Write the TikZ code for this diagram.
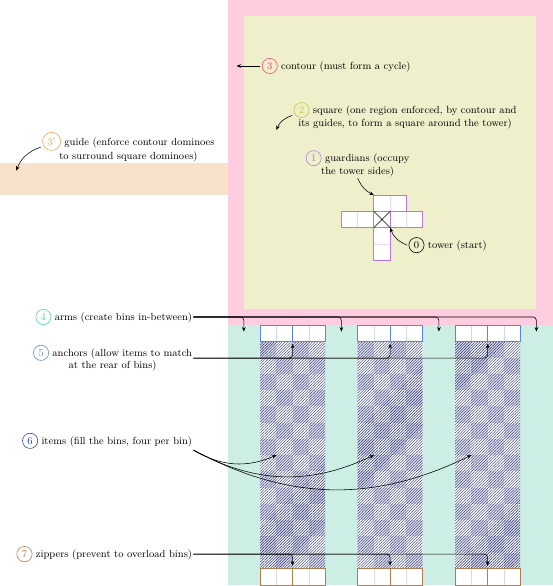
\documentclass[tikz,border=0pt]{standalone}
\usepackage{amsmath}
\usepackage{tikz}
\usetikzlibrary{arrows.meta,patterns.meta}
\definecolor{contourbg}{RGB}{255,204,224}
\definecolor{squarebg}{RGB}{239,239,204}
\definecolor{guidebg}{RGB}{249,226,204}
\definecolor{binbg}{RGB}{204,238,228}
\definecolor{contourcol}{RGB}{240,70,120}
\definecolor{squarecol}{RGB}{196,196,76}
\definecolor{guidecol}{RGB}{240,160,80}
\definecolor{guardcol}{RGB}{180,120,240}
\definecolor{armcol}{RGB}{80,208,168}
\definecolor{anchorcol}{RGB}{90,130,240}
\definecolor{itemcol}{RGB}{40,64,176}
\definecolor{zipcol}{RGB}{176,124,80}
\definecolor{hatchcol}{RGB}{30,40,110}

% circled step number
\newcommand{\stepnum}[2]{\tikz[baseline=(n.base)]\node[circle, draw=#1, text=#1,
  inner sep=2pt, anchor=base, line width=0.5pt] (n) {#2};}

\begin{document}
\begin{tikzpicture}[
  x=0.5cm, y=0.5cm,
  lbl/.style={font=\small, align=center, inner sep=1pt},
  arr/.style={-{Stealth[length=4pt, width=3.2pt]}, line width=0.5pt},
  domino/.style={draw=#1, line width=0.8pt},
  seam/.style={draw=#1!30, line width=0.5pt},
]
\useasboundingbox (0,0) rectangle (34,-36.05);

% regions
\fill[guidebg]   (0,-10) rectangle (14,-12);
\fill[contourbg] (14,0)  rectangle (34,-20);
\fill[squarebg]  (15,-1) rectangle (33,-19);
\fill[binbg]     (14,-20) rectangle (34,-36);

% hatched bin columns
\foreach \bx in {16,22,28} {
  \fill[white] (\bx,-21) rectangle ++(4,-14);
  \foreach \i in {0,2}
    \foreach \j in {21,23,...,33} {
      \fill[hatchcol!15] (\bx+\i,-\j) rectangle ++(1,-1);
      \fill[hatchcol!15] (\bx+\i+1,-\j-1) rectangle ++(1,-1);
    }
  \fill[pattern={Lines[angle=45, distance=1.7pt, line width=0.35pt]}, pattern color=hatchcol]
    (\bx,-21) rectangle ++(4,-14);
}

% bins (top) and zippers (bottom)
\foreach \bx in {16,22,28} {
  \fill[white] (\bx,-20) rectangle ++(4,-1) (\bx,-35) rectangle ++(4,-1);
  \draw[seam=anchorcol] (\bx+1,-20) -- ++(0,-1) (\bx+3,-20) -- ++(0,-1);
  \draw[seam=zipcol] (\bx+1,-35) -- ++(0,-1) (\bx+3,-35) -- ++(0,-1);
  \draw[domino=anchorcol] (\bx,-20) rectangle ++(2,-1) (\bx+2,-20) rectangle ++(2,-1);
  \draw[domino=zipcol] (\bx,-35) rectangle ++(2,-1) (\bx+2,-35) rectangle ++(2,-1);
}

% tower and guardians
\fill[white] (23,-12) rectangle (25,-13) (21,-13) rectangle (26,-14) (23,-14) rectangle (24,-16);
\draw[seam=guardcol] (24,-12) -- (24,-13) (22,-13) -- (22,-14) (25,-13) -- (25,-14) (23,-15) -- (24,-15);
\draw[domino=guardcol] (23,-12) rectangle (25,-13) (21,-13) rectangle (23,-14)
  (24,-13) rectangle (26,-14) (23,-14) rectangle (24,-16);
\draw[line width=0.5pt] (23,-13) -- (24,-14) (23,-14) -- (24,-13);

% labels
\node[lbl] (contour) at (20.68,-4.06) {\stepnum{contourcol}{3} contour (must form a cycle)};
\node[lbl] (square) at (24.92,-7.1) {\stepnum{squarecol}{2} square (one region enforced, by contour and\\its guides, to form a square around the tower)};
\node[lbl] (guide) at (7.9,-9.05) {\stepnum{guidecol}{$3'$} guide (enforce contour dominoes\\to surround square dominoes)};
\node[lbl] (guardians) at (22,-10.06) {\stepnum{guardcol}{1} guardians (occupy\\the tower sides)};
\node[lbl] (tower) at (27.54,-15.08) {\stepnum{black}{0} tower (start)};
\node[lbl, anchor=east] (arms) at (11.9,-19.5) {\stepnum{armcol}{4} arms (create bins in-between)};
\node[lbl, anchor=east] (anchors) at (11.9,-22.03) {\stepnum{anchorcol}{5} anchors (allow items to match\\at the rear of bins)};
\node[lbl, anchor=east] (items) at (11.9,-27.12) {\stepnum{itemcol}{6} items (fill the bins, four per bin)};
\node[lbl, anchor=east] (zippers) at (11.9,-34.09) {\stepnum{zipcol}{7} zippers (prevent to overload bins)};

\coordinate (contourpt) at (14.55,-4.06);
\coordinate (squarept)  at (17,-8);
\coordinate (guidept)   at (1,-10.5);
\coordinate (guardpt)   at (23,-12);
\coordinate (towerpt)   at (24,-14);

\draw[arr] (contour.west) -- (contourpt);
\draw[arr] (square.west) to[bend right=25] (squarept);
\draw[arr] (guide.west) to[bend right=25] (guidept);
\draw[arr] (guardians.south) to[bend right=20] (guardpt);
\draw[arr] (tower.west) to[bend left=25] (towerpt);

\foreach \x [count=\k] in {15,21,27,33} {
  \coordinate (arm\k) at (\x,-20.4);
  \draw[arr, rounded corners=3pt] (arms.east) -| (arm\k);
}
\foreach \x [count=\k] in {18,24,30} {
  \coordinate (anchor\k) at (\x,-21.15);
  \draw[arr, rounded corners=3pt] (anchors.east) -| (anchor\k);
}
\foreach \x [count=\k] in {17,23,29} {
  \coordinate (item\k) at (\x,-28);
  \draw[arr] (items.south east) to[bend right=27] (item\k);
}
\foreach \x [count=\k] in {18,24,30} {
  \coordinate (zip\k) at (\x,-34.8);
  \draw[arr, rounded corners=3pt] (zippers.east) -| (zip\k);
}
\end{tikzpicture}
\end{document}
